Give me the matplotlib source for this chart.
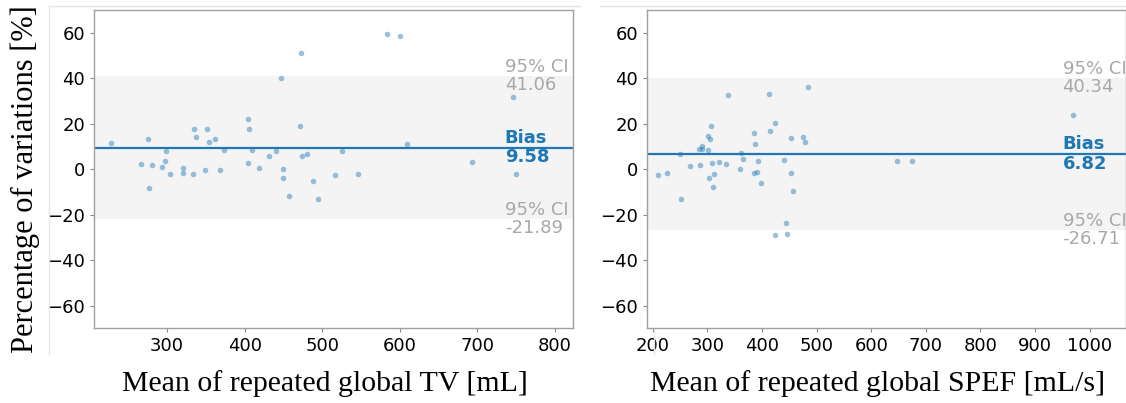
import numpy as np
import matplotlib
matplotlib.use("Agg")
import matplotlib.pyplot as plt
from matplotlib.lines import Line2D

plt.rcParams['font.family'] = ['DejaVu Sans']

# --- data ---
# left panel: global TV
tv_mean = [228, 266, 275, 276, 280, 293, 297, 298, 304, 321, 321, 333, 334, 337,
           349, 351, 354, 362, 368, 373, 404, 405, 404, 410, 418, 432, 441, 447,
           450, 450, 457, 473, 471, 474, 481, 488, 494, 517, 525, 546, 583, 600,
           609, 693, 746, 750]
tv_diff = [11.7, 2.2, 13.4, -8.1, 1.9, 1.2, 3.5, 8.1, -2.2, 0.7, -1.6, -2.1, 17.9,
           14.4, -0.2, 17.6, 12.0, 13.2, -0.4, 8.5, 22.3, 17.8, 2.9, 8.5, 0.7, 6.0,
           8.1, 40.1, 0.0, -3.7, -11.8, 51.4, 19.1, 5.7, 6.8, -5.3, -13.1, -2.5,
           8.1, -2.1, 59.7, 58.8, 11.3, 3.1, 31.9, -2.1]
tv_bias, tv_hi, tv_lo = 9.58, 41.06, -21.89

# right panel: global SPEF
spef_mean = [210, 226, 250, 251, 268, 285, 287, 291, 291, 301, 302, 304, 307, 303,
             309, 310, 313, 321, 335, 337, 360, 361, 365, 385, 386, 388, 390, 392,
             399, 412, 415, 424, 424, 441, 444, 446, 453, 454, 456, 476, 479, 484,
             647, 675, 969]
spef_diff = [-2.5, -1.8, 6.9, -13.2, 1.3, 9.0, 2.0, 10.4, 9.1, 8.5, 14.8, 13.4, 19.1,
             -4.0, 2.6, -7.7, -2.2, 3.2, 2.3, 32.6, 0.0, 7.2, 4.4, -1.6, 16.2, 11.2,
             -1.2, 3.8, -6.2, 33.1, 16.9, 20.6, -29.0, 4.1, -23.8, -28.4, 13.9, -1.5,
             -9.6, 14.4, 12.2, 36.3, 3.8, 3.8, 24.0]
spef_bias, spef_hi, spef_lo = 6.82, 40.34, -26.71

W, H = 1126, 403
fig = plt.figure(figsize=(W / 100, H / 100), dpi=100)

blue = '#1f77b4'
ci_col = '#a8a8a8'
serif = ['Liberation Serif', 'DejaVu Serif']


def panel(rect, x, y, bias, hi, lo, xlim, xticks, txt_x):
    ax = fig.add_axes(rect)
    ax.axhspan(lo, hi, color='#f4f4f4', zorder=0, lw=0)
    ax.axhline(bias, color=blue, lw=1.6, zorder=1)
    ax.scatter(x, y, s=16, color=blue, alpha=0.45, lw=0, zorder=2)
    ax.set_xlim(*xlim)
    ax.set_ylim(-70, 70)
    ax.set_xticks(xticks)
    ax.set_yticks([-60, -40, -20, 0, 20, 40, 60])
    ax.tick_params(labelsize=13, color='#888888', length=3, width=0.8)
    for s in ax.spines.values():
        s.set_color('#a0a0a0')
        s.set_linewidth(1.0)
    tr = ax.get_yaxis_transform()
    ax.text(txt_x, hi, '95% CI\n{:.2f}'.format(hi), transform=tr, va='center',
            ha='left', color=ci_col, fontsize=13, linespacing=1.0)
    ax.text(txt_x, bias, 'Bias\n{:.2f}'.format(bias), transform=tr, va='center',
            ha='left', color=blue, fontsize=13, fontweight='bold', linespacing=1.1)
    ax.text(txt_x, lo, '95% CI\n{:.2f}'.format(lo), transform=tr, va='center',
            ha='left', color=ci_col, fontsize=13, linespacing=1.0)
    return ax


panel([94.3 / W, 74.7 / H, 479 / W, 318 / H], tv_mean, tv_diff, tv_bias, tv_hi, tv_lo,
      (206, 824), [300, 400, 500, 600, 700, 800], 0.857)
panel([647.3 / W, 74.7 / H, 478.4 / W, 318 / H], spef_mean, spef_diff, spef_bias,
      spef_hi, spef_lo, (190, 1066), [200, 300, 400, 500, 600, 700, 800, 900, 1000], 0.868)

# faint frame lines of the pasted panels
for xs, ys in [((49, 580), (6, 6)), ((49, 49), (6, 355)), ((600, 1126), (6, 6)),
               ((654, 654), (330, 355))]:
    fig.add_artist(Line2D([v / W for v in xs], [1 - v / H for v in ys],
                          color='#e6e6e6', lw=1))

fig.text(25 / W, 0.555, 'Percentage of variations [%]', rotation=90, ha='center',
         va='center', fontsize=22, family=serif)
fig.text(325 / W, 1 - 384 / H, 'Mean of repeated global TV [mL]', ha='center',
         va='center', fontsize=21.5, family=serif)
fig.text(878 / W, 1 - 384 / H, 'Mean of repeated global SPEF [mL/s]', ha='center',
         va='center', fontsize=21.5, family=serif)

fig.savefig('out.png', dpi=100)
